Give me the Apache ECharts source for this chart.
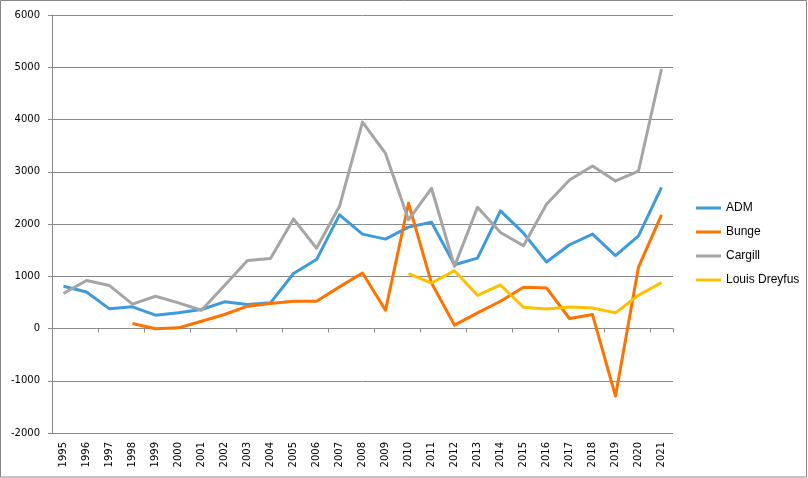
<!DOCTYPE html>
<html>
<head>
<meta charset="utf-8">
<script src="https://cdn.jsdelivr.net/npm/echarts@6/dist/echarts.min.js"></script>
<style>
html,body{margin:0;padding:0;background:#fff;}
#c{width:808px;height:478px;}
</style>
</head>
<body>
<div id="c"></div>
<script>
const years = ['1995','1996','1997','1998','1999','2000','2001','2002','2003','2004','2005','2006','2007','2008','2009','2010','2011','2012','2013','2014','2015','2016','2017','2018','2019','2020','2021'];
const adm = [809,700,376,415,255,300,363,510,459,491,1052,1319,2174,1806,1711,1940,2035,1221,1348,2251,1825,1272,1603,1806,1393,1774,2703];
const bunge = [null,null,null,96,-6,13,140,268,427,478,523,523,797,1062,350,2397,870,64,299,521,789,776,191,267,-1294,1176,2175];
const cargill = [669,918,822,465,618,491,350,822,1300,1338,2097,1536,2339,3950,3351,2080,2684,1189,2321,1838,1583,2378,2843,3110,2824,3014,4966];
const louisDreyfus = [null,null,null,null,null,null,null,null,null,null,null,null,null,null,null,1049,871,1107,636,833,407,375,413,394,299,636,878];
const yTicks = {min:-2000, max:6000, interval:1000};

const chart = echarts.init(document.getElementById('c'), null, {renderer:'canvas'});
const gridColor = '#898989';
const axisFont = {fontFamily:'DejaVu Sans', fontSize:10, color:'#000'};
function mk(name, data, color){
  return {name, type:'line', data, xAxisIndex:0, yAxisIndex:0, showSymbol:false, symbol:'none',
    lineStyle:{color, width:3, join:'round'}, itemStyle:{color}, connectNulls:false, animation:false};
}
chart.setOption({
  animation:false,
  backgroundColor:'#fff',
  grid:{left:52, right:135, top:15, bottom:45},
  graphic:[{type:'rect', shape:{x:0.5,y:0.5,width:806,height:476.5}, style:{fill:'none', stroke:'#868686', lineWidth:1}, silent:true}],
  legend:{
    orient:'vertical', left:691, top:196, itemWidth:25, itemHeight:3, itemGap:10, icon:'rect',
    textStyle:{fontFamily:'Liberation Sans', fontSize:12, color:'#000', lineHeight:14},
    data:['ADM','Bunge','Cargill','Louis Dreyfus']
  },
  xAxis:[
    {type:'category', data:years, boundaryGap:true, position:'bottom',
     axisLine:{onZero:true, lineStyle:{color:gridColor, width:1}},
     axisTick:{show:true, length:4, lineStyle:{color:gridColor}},
     axisLabel:{show:false}, splitLine:{show:false}},
    {type:'category', data:years, boundaryGap:true, position:'bottom',
     axisLine:{show:false}, axisTick:{show:false}, splitLine:{show:false},
     axisLabel:Object.assign({rotate:90, margin:9, interval:0}, axisFont)}
  ],
  yAxis:{
    type:'value', min:yTicks.min, max:yTicks.max, interval:yTicks.interval,
    axisLine:{show:true, lineStyle:{color:gridColor, width:1}},
    axisTick:{show:true, length:4, lineStyle:{color:gridColor}},
    axisLabel:Object.assign({margin:12, formatter:function(v){return String(v);}}, axisFont),
    splitLine:{show:true, lineStyle:{color:gridColor, width:1}}
  },
  series:[
    mk('ADM', adm, '#3D9BDB'),
    mk('Bunge', bunge, '#FF7200'),
    mk('Cargill', cargill, '#A5A5A5'),
    mk('Louis Dreyfus', louisDreyfus, '#FFC000')
  ]
});
</script>
</body>
</html>
